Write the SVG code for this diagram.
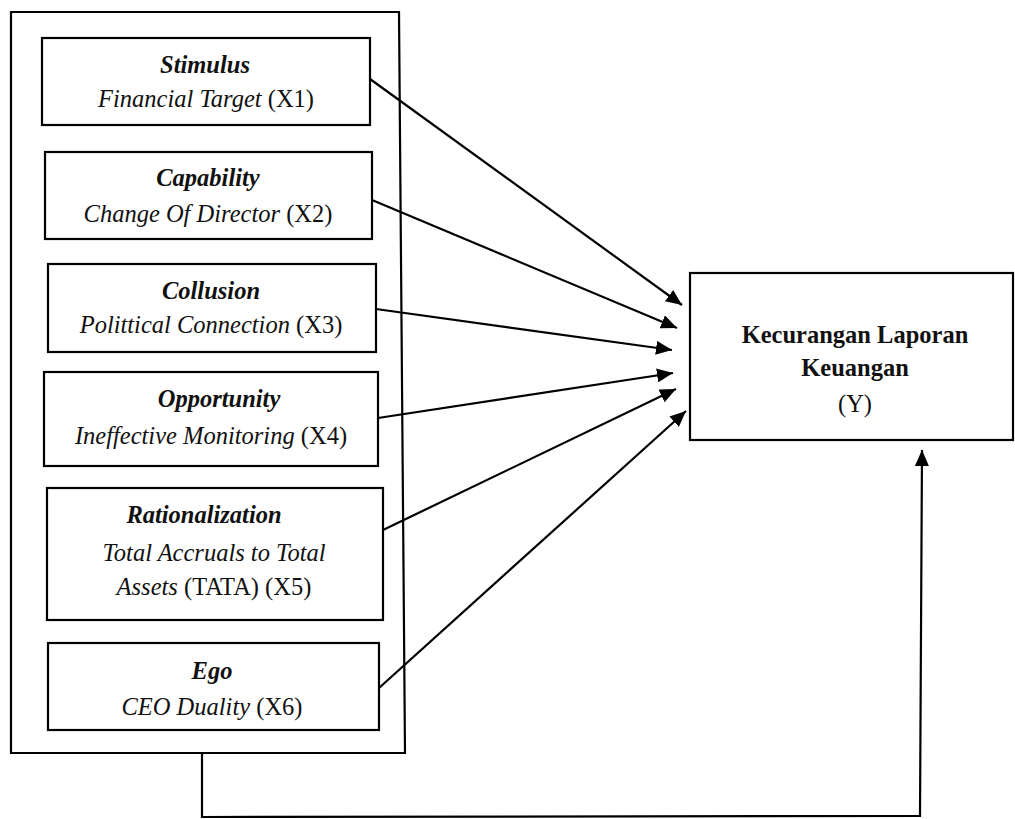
<svg xmlns="http://www.w3.org/2000/svg" width="1015" height="819" viewBox="0 0 1015 819">
<defs>
<style>
.box{fill:#fff;stroke:#000;stroke-width:2.2}
.outer{fill:none;stroke:#000;stroke-width:2.2}
.t{font-family:"Liberation Serif","Times New Roman",serif;font-size:24.5px;fill:#111;text-anchor:middle}
.h{font-weight:bold;font-style:italic}
.i{font-style:italic}
.b{font-weight:bold}
.c{fill:none;stroke:#000;stroke-width:2.2}
</style>
<marker id="ah" markerUnits="userSpaceOnUse" markerWidth="18" markerHeight="14" refX="16" refY="7" orient="auto">
<path d="M0,0 L16,7 L0,14 Z" fill="#000"/>
</marker>
</defs>
<rect x="0" y="0" width="1015" height="819" fill="#fff"/>
<g id="group-x">
<path class="outer" d="M11,12 L399,12 L405,753 L11,753 Z"/>
</g>
<g id="x1">
<rect class="box" x="42" y="38" width="328" height="87"/>
<text class="t h" x="205" y="73">Stimulus</text>
<text class="t" x="206" y="107"><tspan class="i">Financial Target</tspan> (X1)</text>
</g>
<g id="x2">
<rect class="box" x="45" y="152" width="327" height="87"/>
<text class="t h" x="208" y="186">Capability</text>
<text class="t" x="208" y="222"><tspan class="i">Change Of Director</tspan> (X2)</text>
</g>
<g id="x3">
<rect class="box" x="48" y="264" width="328" height="88"/>
<text class="t h" x="211" y="299">Collusion</text>
<text class="t" x="211" y="333"><tspan class="i">Polittical Connection</tspan> (X3)</text>
</g>
<g id="x4">
<rect class="box" x="44" y="372" width="334" height="94"/>
<text class="t h" x="219" y="407">Opportunity</text>
<text class="t" x="211" y="444"><tspan class="i">Ineffective Monitoring</tspan> (X4)</text>
</g>
<g id="x5">
<rect class="box" x="47" y="488" width="336" height="132"/>
<text class="t h" x="204" y="523">Rationalization</text>
<text class="t" x="214" y="561"><tspan class="i">Total Accruals to Total</tspan></text>
<text class="t" x="214" y="595"><tspan class="i">Assets</tspan> (TATA) (X5)</text>
</g>
<g id="x6">
<rect class="box" x="48" y="643" width="331" height="87"/>
<text class="t h" x="212" y="679">Ego</text>
<text class="t" x="212" y="715"><tspan class="i">CEO Duality</tspan> (X6)</text>
</g>
<g id="y">
<rect class="box" x="690" y="273" width="323" height="167"/>
<text class="t b" x="855" y="343">Kecurangan Laporan</text>
<text class="t b" x="855" y="376">Keuangan</text>
<text class="t" x="855" y="412">(Y)</text>
</g>
<g id="connectors">
<line class="c" x1="370" y1="79" x2="682" y2="305" marker-end="url(#ah)"/>
<line class="c" x1="372" y1="200" x2="677" y2="328" marker-end="url(#ah)"/>
<line class="c" x1="376" y1="309" x2="672" y2="350" marker-end="url(#ah)"/>
<line class="c" x1="378" y1="418" x2="673" y2="373" marker-end="url(#ah)"/>
<line class="c" x1="383" y1="530" x2="676" y2="389" marker-end="url(#ah)"/>
<line class="c" x1="379" y1="688" x2="686" y2="411" marker-end="url(#ah)"/>
<polyline class="c" points="202,753 202,817 920,816 922,450" marker-end="url(#ah)"/>
</g>
</svg>
